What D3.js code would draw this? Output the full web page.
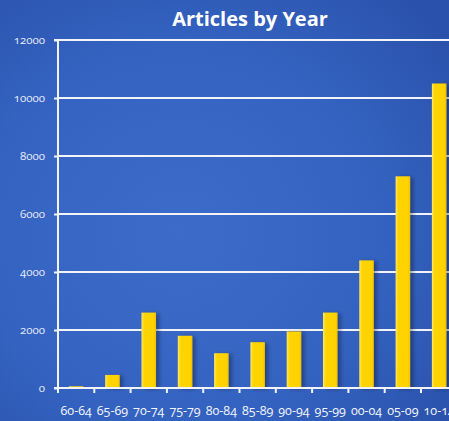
<!DOCTYPE html>
<html><head><meta charset="utf-8">
<script src="https://cdn.jsdelivr.net/npm/d3@7"></script>
<style>
html,body{margin:0;padding:0;overflow:hidden;}
svg{display:block;}
text{font-family:"Open Sans","Lato",sans-serif;}
.num{font-variant-numeric:oldstyle-nums;font-feature-settings:"onum" 1;}
</style></head><body>
<script>
const categories = ["60-64","65-69","70-74","75-79","80-84","85-89","90-94","95-99","00-04","05-09","10-14"];
const values = [60,450,2600,1800,1200,1580,1950,2600,4400,7300,10500];
const yTicks = [0,2000,4000,6000,8000,10000,12000];
const title = "Articles by Year";

const W=449,H=421;
const svg=d3.select("body").append("svg").attr("width",W).attr("height",H);
const defs=svg.append("defs");
const bg=defs.append("radialGradient").attr("id","bg").attr("cx","0.4").attr("cy","0.55").attr("r","0.75");
bg.append("stop").attr("offset","0").attr("stop-color","#3c6cca");
bg.append("stop").attr("offset","0.6").attr("stop-color","#3462c0");
bg.append("stop").attr("offset","1").attr("stop-color","#2a52ac");
svg.append("rect").attr("width",W).attr("height",H).attr("fill","url(#bg)");

const bar=defs.append("linearGradient").attr("id","bar").attr("x1","0").attr("x2","1");
bar.append("stop").attr("offset","0").attr("stop-color","#ffe766");
bar.append("stop").attr("offset","0.2").attr("stop-color","#ffd400");
bar.append("stop").attr("offset","0.85").attr("stop-color","#ffd200");
bar.append("stop").attr("offset","1").attr("stop-color","#f0c000");
const sh=defs.append("filter").attr("id","sh").attr("x","-0.5").attr("y","-0.2").attr("width","2").attr("height","1.4");
sh.append("feGaussianBlur").attr("in","SourceAlpha").attr("stdDeviation","2");
sh.append("feOffset").attr("dx","3").attr("dy","1").attr("result","b");
sh.append("feComponentTransfer").append("feFuncA").attr("type","linear").attr("slope","0.35");
const m=sh.append("feMerge");m.append("feMergeNode");m.append("feMergeNode").attr("in","SourceGraphic");

const x0=58, yTop=40, yBot=388;
const x=d3.scaleBand().domain(categories).range([x0,x0+11*36.3]).paddingInner(0.6).paddingOuter(0.3);
const y=d3.scaleLinear().domain([0,12000]).range([yBot,yTop]);

svg.append("text").attr("x",250).attr("y",26).attr("text-anchor","middle")
  .attr("font-size",20).attr("font-weight","bold").attr("fill","#fff").text(title);

// gridlines
svg.append("g").selectAll("line").data(yTicks.filter(d=>d>0)).join("line")
  .attr("x1",x0).attr("x2",W).attr("y1",d=>y(d)).attr("y2",d=>y(d))
  .attr("stroke","#f2f4fa").attr("stroke-width",2);

// bars
svg.append("g").selectAll("rect").data(values).join("rect")
  .attr("x",(d,i)=>x(categories[i])).attr("width",x.bandwidth())
  .attr("y",d=>y(d)).attr("height",d=>yBot-y(d))
  .attr("fill","url(#bar)").attr("filter","url(#sh)");

// y axis
const ya=svg.append("g").attr("transform",`translate(${x0},0)`)
  .call(d3.axisLeft(y).tickValues(yTicks).tickSize(4).tickPadding(9).tickFormat(d=>String(d)));
ya.select(".domain").attr("stroke","#f2f4fa").attr("stroke-width",2).attr("d",`M-4,${yTop}H0V${yBot}`);
ya.selectAll(".tick line").attr("stroke","#f2f4fa").attr("stroke-width",2);
ya.selectAll(".tick text").attr("class","num").attr("fill","#e6ebf7").attr("font-size",11.5).attr("font-family","Open Sans, Lato, sans-serif");

// x axis
const xa=svg.append("g").attr("transform",`translate(0,${yBot})`)
  .call(d3.axisBottom(x).tickSize(0).tickPadding(18));
xa.select(".domain").remove();
xa.append("line").attr("x1",x0-4).attr("x2",W).attr("y1",0).attr("y2",0).attr("stroke","#f2f4fa").attr("stroke-width",2);
xa.selectAll(".tick text").attr("class","num").attr("fill","#f4f6fb").attr("font-size",12.5).attr("font-family","Open Sans, Lato, sans-serif");
xa.append("g").selectAll("line").data(categories).join("line")
  .attr("x1",c=>x(c)+x.bandwidth()+x.step()*0.3).attr("x2",c=>x(c)+x.bandwidth()+x.step()*0.3)
  .attr("y1",0).attr("y2",5).attr("stroke","#f2f4fa").attr("stroke-width",2);
xa.append("line").attr("x1",x0).attr("x2",x0).attr("y1",0).attr("y2",5).attr("stroke","#f2f4fa").attr("stroke-width",2);
</script></body></html>
